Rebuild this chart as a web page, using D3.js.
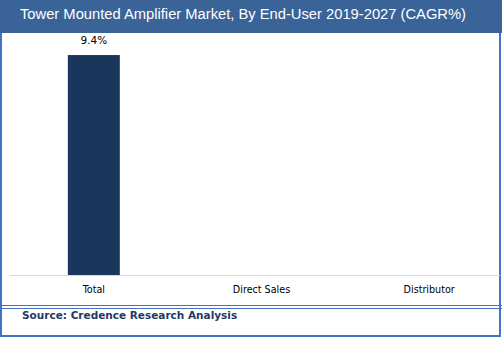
<!DOCTYPE html>
<html><head><meta charset="utf-8">
<script src="https://cdn.jsdelivr.net/npm/d3@7"></script>
<style>body{margin:0;background:#fff}svg{display:block}</style>
</head><body>
<script>
const title = "Tower Mounted Amplifier Market, By End-User 2019-2027 (CAGR%)";
const categories = ["Total", "Direct Sales", "Distributor"];
const values = [9.4, null, null];
const source = "Source: Credence Research Analysis";

const W = 502, H = 337;
const svg = d3.select("body").append("svg").attr("width", W).attr("height", H);

// background + border
svg.append("rect").attr("x", 1).attr("y", 1).attr("width", W - 3).attr("height", H - 2)
  .attr("fill", "#fff").attr("stroke", "#4472C4").attr("stroke-width", 2);
// title bar
svg.append("rect").attr("x", 0).attr("y", 0).attr("width", W).attr("height", 33).attr("fill", "#3A6398");
svg.append("text").attr("x", 20).attr("y", 14.5).attr("fill", "#fff")
  .attr("font-family", "Liberation Sans, Arial, sans-serif").attr("font-size", 15.5)
  .attr("textLength", 446).attr("lengthAdjust", "spacingAndGlyphs")
  .attr("dominant-baseline", "middle").text(title);

const x = d3.scaleBand().domain(categories).range([10, 513]).paddingInner(0).paddingOuter(0);
const y = d3.scaleLinear().domain([0, 10]).range([275, 41]);
const bw = 52;

const g = svg.append("g");
const data = categories.map((c, i) => ({c, v: values[i]})).filter(d => d.v != null);
g.selectAll("rect.bar").data(data)
  .enter().append("rect").attr("class", "bar")
  .attr("x", d => x(d.c) + x.bandwidth() / 2 - bw / 2)
  .attr("y", d => y(d.v)).attr("width", bw).attr("height", d => y(0) - y(d.v))
  .attr("fill", "#1B365D");
g.selectAll("text.val").data(data)
  .enter().append("text").attr("class", "val")
  .attr("x", d => x(d.c) + x.bandwidth() / 2).attr("y", d => y(d.v) - 11)
  .attr("text-anchor", "middle").attr("font-family", "DejaVu Sans, Verdana, sans-serif")
  .attr("font-size", 10.5).attr("fill", "#000").text(d => d.v.toFixed(1) + "%");

// axis
const axis = d3.axisBottom(x).tickSize(0).tickPadding(11);
const ax = svg.append("g").attr("transform", `translate(0,${y(0)})`).call(axis);
ax.select(".domain").attr("stroke", "#d9d9d9").attr("d", `M10,0.5H500`);
ax.selectAll("text").attr("font-family", "DejaVu Sans, Verdana, sans-serif").attr("font-size", 9.6).attr("fill", "#000");

// double separator line
svg.append("line").attr("x1", 0).attr("x2", W).attr("y1", 305.5).attr("y2", 305.5).attr("stroke", "#4472C4");
svg.append("line").attr("x1", 0).attr("x2", W).attr("y1", 308.5).attr("y2", 308.5).attr("stroke", "#4472C4");

svg.append("text").attr("x", 22).attr("y", 316).attr("fill", "#1F3864")
  .attr("font-family", "DejaVu Sans, Verdana, sans-serif").attr("font-weight", "bold")
  .attr("font-size", 10.5).attr("dominant-baseline", "middle").text(source);
</script>
</body></html>
